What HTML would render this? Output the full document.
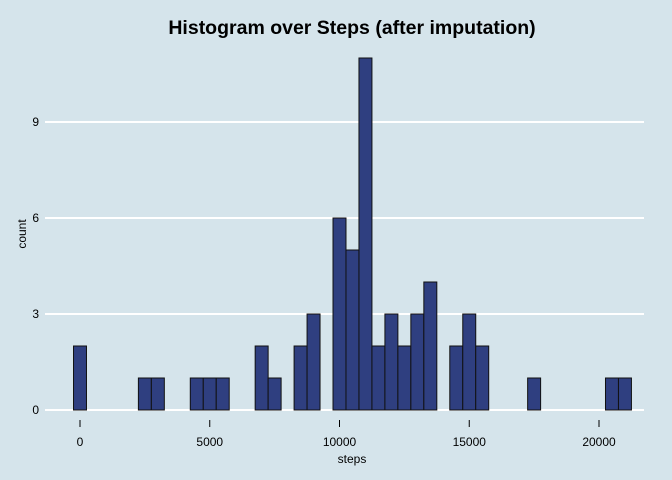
<!DOCTYPE html>
<html><head><meta charset="utf-8"><style>
body{margin:0;background:#d5e4eb;}
svg{display:block;font-family:"Liberation Sans",sans-serif;}
</style></head><body>
<svg width="672" height="480" id="c">
<rect width="672" height="480" fill="#d5e4eb"/>
<text x="352" y="34" text-anchor="middle" font-size="19.5" font-weight="bold" fill="#000">Histogram over Steps (after imputation)</text>
<text x="352" y="463" text-anchor="middle" font-size="12">steps</text>
<text transform="translate(26,234) rotate(-90)" text-anchor="middle" font-size="12">count</text>
<g id="grid"></g><g id="bars"></g><g id="xt"></g><g id="yt"></g>
</svg>
<script>
const binCenters=[0,2500,3000,4500,5000,5500,7000,7500,8500,9000,10000,10500,11000,11500,12000,12500,13000,13500,14500,15000,15500,17500,20500,21000];
const counts=[2,1,1,1,1,1,2,1,2,3,6,5,11,2,3,2,3,4,2,3,2,1,1,1];
const binWidth=500;
const xTicks=[0,5000,10000,15000,20000];
const yTicks=[0,3,6,9];
const NS="http://www.w3.org/2000/svg";
const x=v=>80+v*0.02595;
const y=v=>410-v*32;
function mk(t,a,p){const e=document.createElementNS(NS,t);for(const k in a)e.setAttribute(k,a[k]);p.appendChild(e);return e;}
const g=document.getElementById('grid'),b=document.getElementById('bars'),xt=document.getElementById('xt'),yt=document.getElementById('yt');
yTicks.forEach(t=>{
 const l=mk('line',{x1:45,x2:644,y1:y(t),y2:y(t),stroke:'#fff','stroke-width':2},g);
 
 
 const s=mk('text',{x:39,y:y(t)+4,'text-anchor':'end','font-size':12,fill:'#000'},yt);s.textContent=t;
 
 
});
xTicks.forEach(t=>{
 const m=mk('line',{x1:x(t),x2:x(t),y1:420,y2:427,stroke:'#000','stroke-width':1},xt);
 
 
 const s=mk('text',{x:x(t),y:446,'text-anchor':'middle','font-size':12,fill:'#000'},xt);s.textContent=t;
 
 
});
binCenters.forEach((c,i)=>{
 const x0=x(c-binWidth/2),x1=x(c+binWidth/2);
 const r=mk('rect',{x:x0,y:y(counts[i]),width:x1-x0,height:y(0)-y(counts[i]),fill:'#2f3f80',stroke:'#111','stroke-width':1},b);
 
 
});
</script>
</body></html>
